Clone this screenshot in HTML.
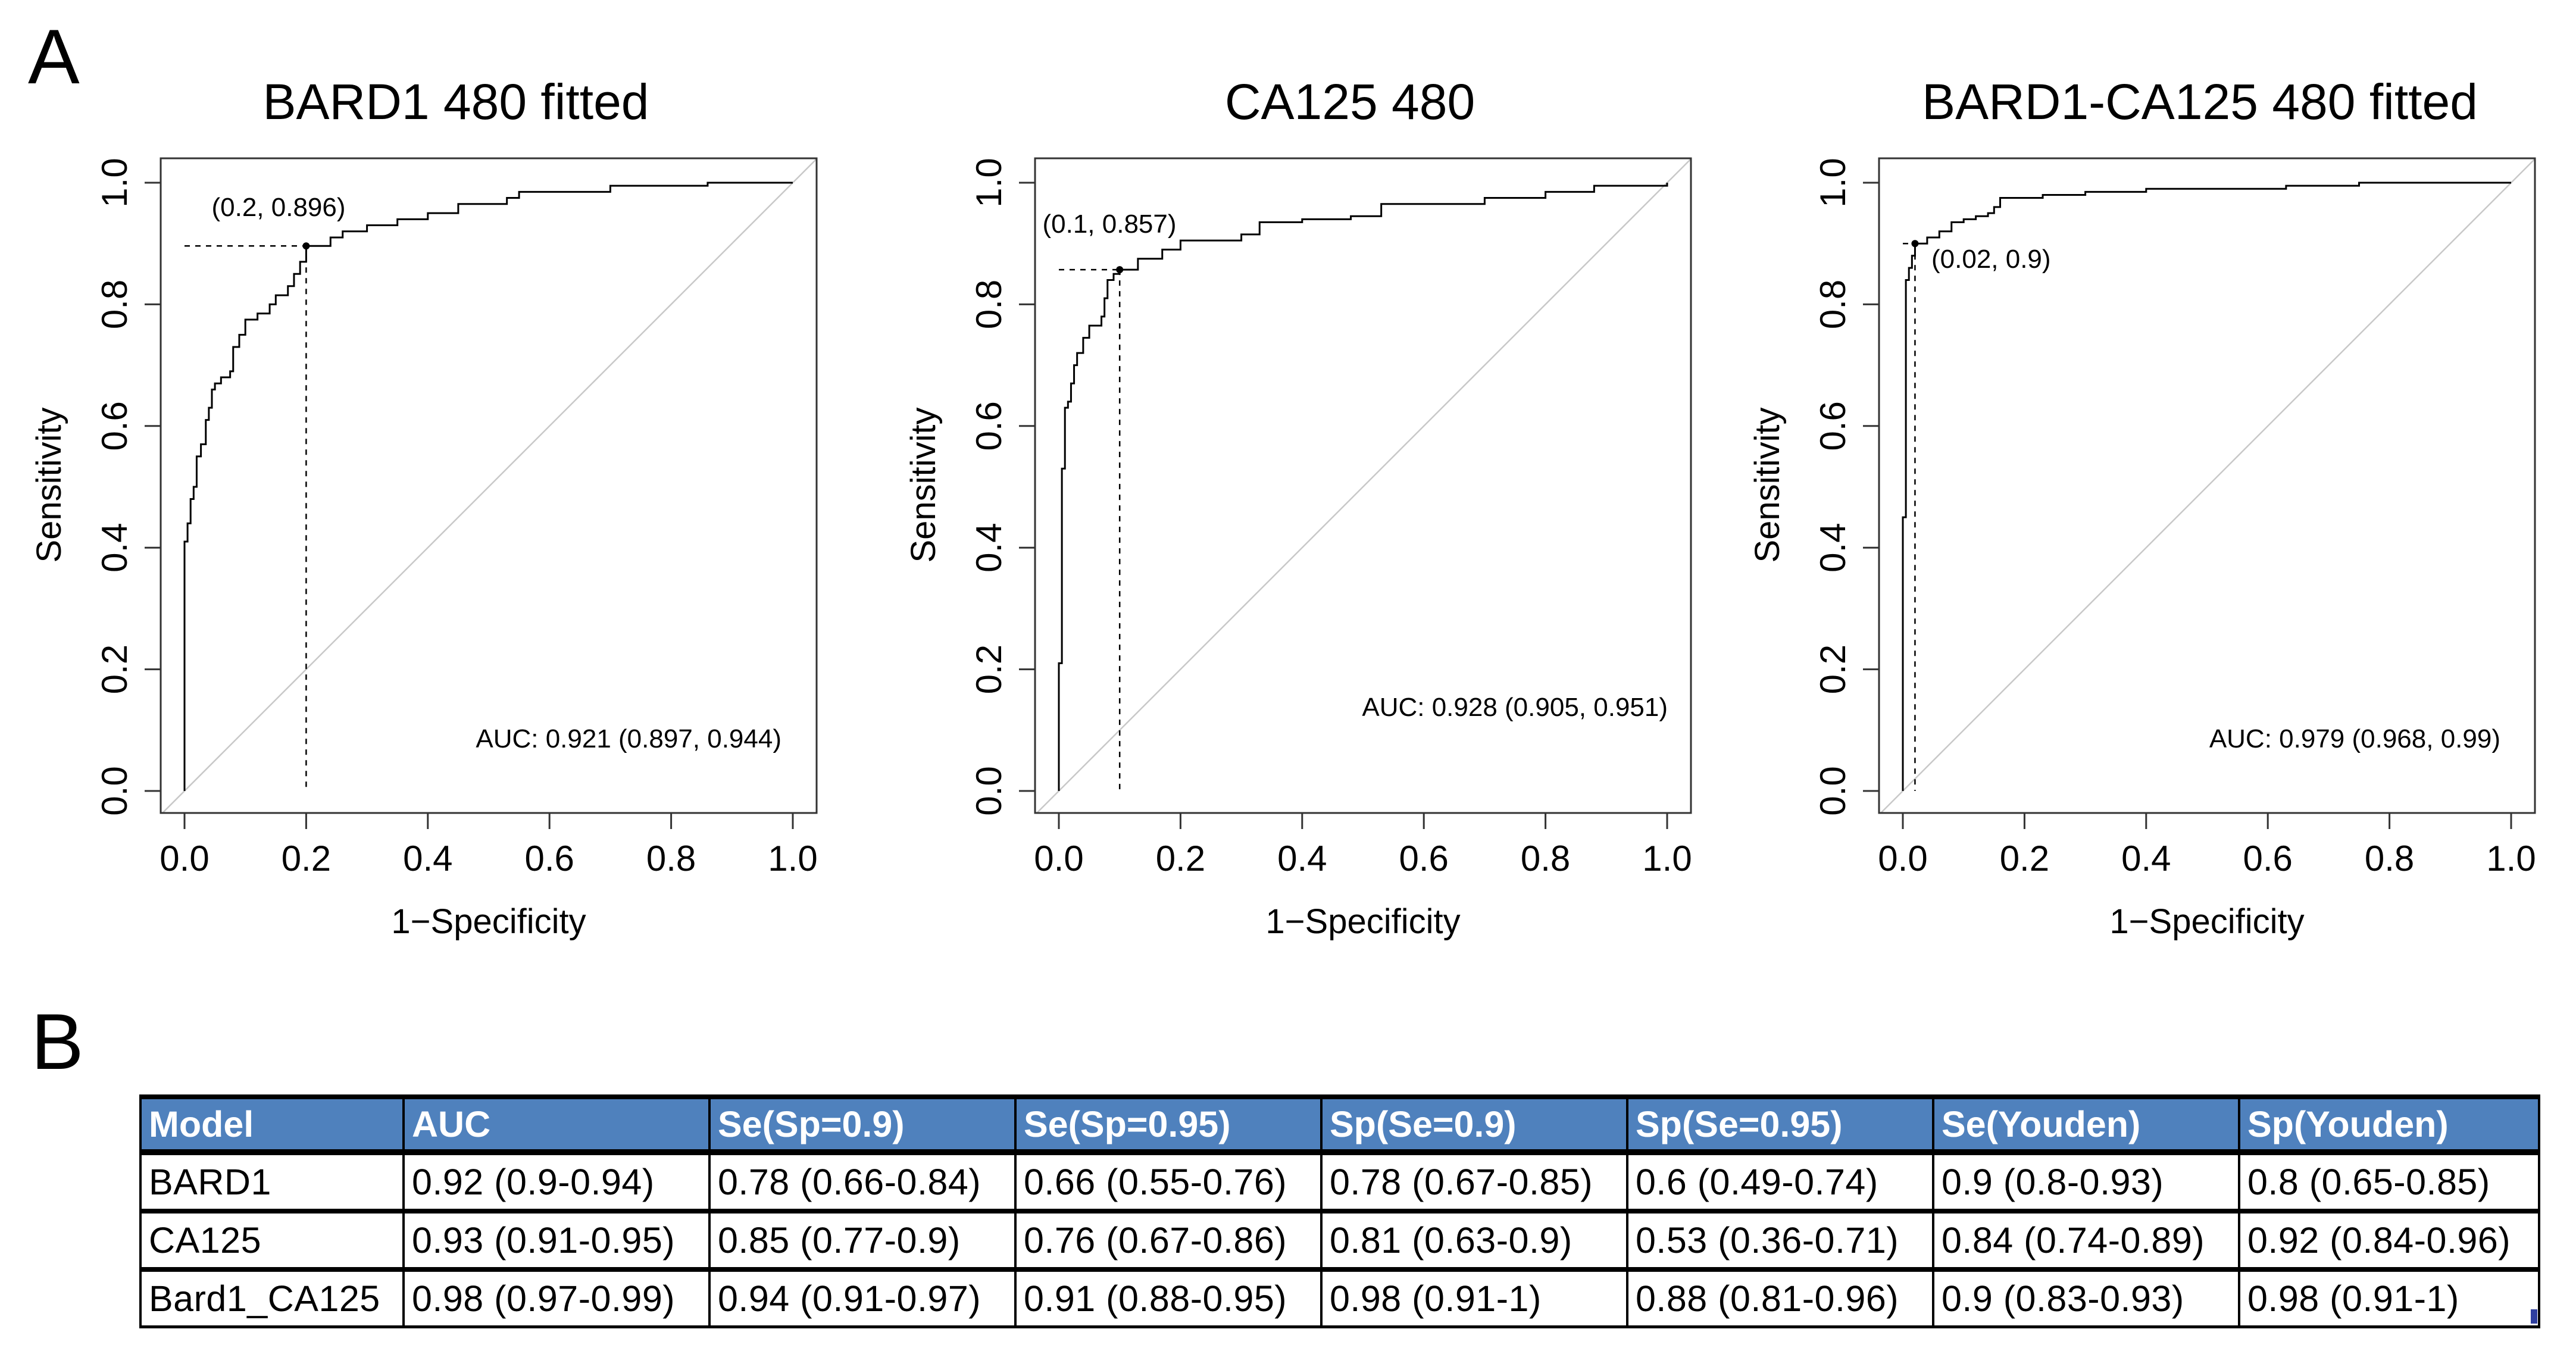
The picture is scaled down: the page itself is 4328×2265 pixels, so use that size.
<!DOCTYPE html>
<html><head><meta charset="utf-8"><style>
html,body{margin:0;padding:0;background:#fff;}
body{width:4328px;height:2265px;position:relative;overflow:hidden;font-family:"Liberation Sans",sans-serif;}
svg{position:absolute;left:0;top:0;}
table{position:absolute;left:234px;top:1839px;border-collapse:collapse;table-layout:fixed;width:4030px;}
td,th{font-family:"Liberation Sans",sans-serif;font-size:61px;letter-spacing:0.5px;text-align:left;padding:0 0 0 12px;white-space:nowrap;overflow:hidden;border-left:4px solid #000;border-right:4px solid #000;}
th{background:#4f81bd;color:#fff;font-weight:bold;height:84px;border-top:8px solid #000;border-bottom:10px solid #000;letter-spacing:0px;}
td{height:90px;border-bottom:8px solid #000;color:#000;}
tr:last-child td{border-bottom:5px solid #000;}
</style></head><body>
<svg id="fig" width="4328" height="2265" xmlns="http://www.w3.org/2000/svg"></svg>
<table>
<colgroup><col style="width:442px"><col style="width:514px"><col style="width:514px"><col style="width:514px"><col style="width:514px"><col style="width:514px"><col style="width:514px"><col style="width:504px"></colgroup>
<tr><th>Model</th><th>AUC</th><th>Se(Sp=0.9)</th><th>Se(Sp=0.95)</th><th>Sp(Se=0.9)</th><th>Sp(Se=0.95)</th><th>Se(Youden)</th><th>Sp(Youden)</th></tr>
<tr><td>BARD1</td><td>0.92 (0.9-0.94)</td><td>0.78 (0.66-0.84)</td><td>0.66 (0.55-0.76)</td><td>0.78 (0.67-0.85)</td><td>0.6 (0.49-0.74)</td><td>0.9 (0.8-0.93)</td><td>0.8 (0.65-0.85)</td></tr>
<tr><td>CA125</td><td>0.93 (0.91-0.95)</td><td>0.85 (0.77-0.9)</td><td>0.76 (0.67-0.86)</td><td>0.81 (0.63-0.9)</td><td>0.53 (0.36-0.71)</td><td>0.84 (0.74-0.89)</td><td>0.92 (0.84-0.96)</td></tr>
<tr><td>Bard1_CA125</td><td>0.98 (0.97-0.99)</td><td>0.94 (0.91-0.97)</td><td>0.91 (0.88-0.95)</td><td>0.98 (0.91-1)</td><td>0.88 (0.81-0.96)</td><td>0.9 (0.83-0.93)</td><td>0.98 (0.91-1)</td></tr>
</table>
<div style="position:absolute;left:4252px;top:2200px;width:11px;height:24px;background:#2f3f9f;"></div>
<script>
const titles = ["BARD1 480 fitted","CA125 480","BARD1-CA125 480 fitted"];
const fpr1 = [0,0,0.005,0.01,0.015,0.02,0.027,0.035,0.04,0.045,0.05,0.06,0.075,0.08,0.09,0.1,0.12,0.14,0.15,0.17,0.18,0.19,0.2,0.24,0.26,0.3,0.35,0.4,0.45,0.53,0.55,0.7,0.86,1];
const tpr1 = [0,0.41,0.44,0.48,0.50,0.55,0.57,0.61,0.63,0.66,0.67,0.68,0.69,0.73,0.75,0.775,0.785,0.80,0.815,0.83,0.85,0.87,0.896,0.91,0.92,0.93,0.94,0.95,0.965,0.975,0.985,0.995,1,1];
const fpr2 = [0,0,0.005,0.01,0.015,0.02,0.025,0.03,0.04,0.05,0.07,0.075,0.08,0.09,0.1,0.13,0.17,0.2,0.3,0.33,0.4,0.48,0.53,0.7,0.8,0.88,1];
const tpr2 = [0,0.21,0.53,0.63,0.64,0.67,0.70,0.72,0.745,0.765,0.78,0.81,0.84,0.85,0.857,0.875,0.89,0.905,0.915,0.935,0.94,0.945,0.965,0.975,0.985,0.995,1];
const fpr3 = [0,0,0.005,0.01,0.015,0.02,0.04,0.06,0.08,0.1,0.12,0.14,0.15,0.16,0.23,0.3,0.4,0.63,0.75,1];
const tpr3 = [0,0.45,0.84,0.86,0.88,0.9,0.91,0.92,0.935,0.94,0.945,0.95,0.96,0.975,0.98,0.985,0.99,0.995,1,1];
const bestX = [0.2,0.1,0.02];
const bestY = [0.896,0.857,0.9];
const bestLabels = ["(0.2, 0.896)","(0.1, 0.857)","(0.02, 0.9)"];
const aucLabels = ["AUC: 0.921 (0.897, 0.944)","AUC: 0.928 (0.905, 0.951)","AUC: 0.979 (0.968, 0.99)"];
const ticks = [0,0.2,0.4,0.6,0.8,1.0];
const tickLabels = ["0.0","0.2","0.4","0.6","0.8","1.0"];

const NS="http://www.w3.org/2000/svg";
const svg=document.getElementById('fig');
function mk(tag,attrs,parent){const e=document.createElementNS(NS,tag);for(const k in attrs)e.setAttribute(k,attrs[k]);(parent||svg).appendChild(e);return e;}
const fprs=[fpr1,fpr2,fpr3], tprs=[tpr1,tpr2,tpr3];
const origins=[310,1779,3197];
const SX=1022, Y0=1329, SY=1022;
const labelPos=[{dx:158,y:363,anchor:"middle"},{dx:85,y:391,anchor:"middle"},{dx:48,y:450,anchor:"start"}];
const aucPos=[{dx:1003,y:1256},{dx:1023,y:1203},{dx:1004,y:1256}];

let t=mk('text',{x:47,y:140,'font-size':130,'font-family':'Liberation Sans, sans-serif'});
t.textContent="A";


t=mk('text',{x:52,y:1796,'font-size':133,'font-family':'Liberation Sans, sans-serif'});
t.textContent="B";



for(let p=0;p<3;p++){
  const x0=origins[p];
  const X=v=>x0+v*SX, Y=v=>Y0-v*SY;
  const g=mk('g',{});
  
  
  const bl=x0-40, br=x0+SX+40, bt=266, bb=1366;
  const cid='clip'+p;
  const cp=mk('clipPath',{id:cid},g); mk('rect',{x:bl,y:bt,width:br-bl,height:bb-bt},cp);
  let tt=mk('text',{x:[766,2268,3696][p],y:200,'text-anchor':'middle','font-size':84,'font-family':'Liberation Sans, sans-serif'},g);
  tt.textContent=titles[p];
  
  
  let d=mk('line',{x1:X(-0.1),y1:Y(-0.1),x2:X(1.1),y2:Y(1.1),stroke:'#c8c8c8','stroke-width':2.5,'clip-path':'url(#'+cid+')'},g);
  
  
  const fx=fprs[p], ty=tprs[p];
  let path='M'+X(fx[0])+' '+Y(ty[0]);
  for(let i=1;i<fx.length;i++){path+=' H'+X(fx[i])+' V'+Y(ty[i]);}
  let c=mk('path',{d:path,fill:'none',stroke:'#000','stroke-width':3},g);
  
  
  let h=mk('line',{x1:X(0),y1:Y(bestY[p]),x2:X(bestX[p]),y2:Y(bestY[p]),stroke:'#000','stroke-width':2.5,'stroke-dasharray':'9,9'},g);
  
  
  let v=mk('line',{x1:X(bestX[p]),y1:Y(bestY[p]),x2:X(bestX[p]),y2:Y(0),stroke:'#000','stroke-width':2.5,'stroke-dasharray':'9,9'},g);
  
  
  let dot=mk('circle',{cx:X(bestX[p]),cy:Y(bestY[p]),r:6,fill:'#000'},g);
  
  
  let bl2=mk('text',{x:x0+labelPos[p].dx,y:labelPos[p].y,'text-anchor':labelPos[p].anchor,'font-size':44,'font-family':'Liberation Sans, sans-serif'},g);
  bl2.textContent=bestLabels[p];
  
  
  let au=mk('text',{x:x0+aucPos[p].dx,y:aucPos[p].y,'text-anchor':'end','font-size':44,'font-family':'Liberation Sans, sans-serif'},g);
  au.textContent=aucLabels[p];
  
  
  let box=mk('rect',{x:bl,y:bt,width:br-bl,height:bb-bt,fill:'none',stroke:'#333','stroke-width':3},g);
  
  
  for(let i=0;i<ticks.length;i++){
    let xt=mk('line',{x1:X(ticks[i]),y1:bb,x2:X(ticks[i]),y2:bb+27,stroke:'#333','stroke-width':3},g);
    
    
    let xl=mk('text',{x:X(ticks[i]),y:1463,'text-anchor':'middle','font-size':60,'font-family':'Liberation Sans, sans-serif'},g);
    xl.textContent=tickLabels[i];
    
    
    let yt=mk('line',{x1:bl,y1:Y(ticks[i]),x2:bl-27,y2:Y(ticks[i]),stroke:'#333','stroke-width':3},g);
    
    
    const yx=x0-97, yy=Y(ticks[i]);
    let yl=mk('text',{x:yx,y:yy,'text-anchor':'middle',transform:'rotate(-90 '+yx+' '+yy+')','font-size':60,'font-family':'Liberation Sans, sans-serif'},g);
    yl.textContent=tickLabels[i];
    
    
  }
  let xa=mk('text',{x:x0+511,y:1568,'text-anchor':'middle','font-size':58,'font-family':'Liberation Sans, sans-serif'},g);
  xa.textContent="1\u2212Specificity";
  
  
  const sx=x0-208, sy=815;
  let ya=mk('text',{x:sx,y:sy,'text-anchor':'middle',transform:'rotate(-90 '+sx+' '+sy+')','font-size':58,'font-family':'Liberation Sans, sans-serif'},g);
  ya.textContent="Sensitivity";
  
  
}
</script>
</body></html>
